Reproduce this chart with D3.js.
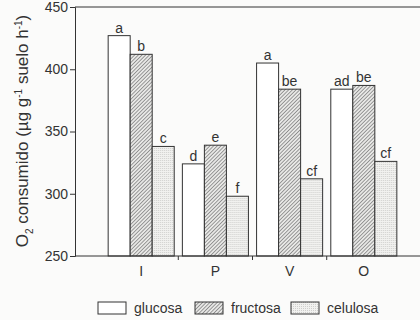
<!DOCTYPE html>
<html>
<head>
<meta charset="utf-8">
<script src="https://cdn.jsdelivr.net/npm/d3@7"></script>
<style>
  body { margin: 0; background: #fbfbfa; }
  svg { display: block; font-family: "Liberation Sans", Arial, sans-serif; }
</style>
</head>
<body>
<svg id="chart" width="420" height="320"></svg>
<script>
const sites = ["I", "P", "V", "O"];
const sugars = ["glucosa", "fructosa", "celulosa"];
const glucosa = [427, 324, 405, 384];
const fructosa = [412, 339, 384, 387];
const celulosa = [338, 298, 312, 326];
const letters = [
  ["a", "b", "c"],
  ["d", "e", "f"],
  ["a", "be", "cf"],
  ["ad", "be", "cf"]
];
const yTicks = [250, 300, 350, 400, 450];

const series = { glucosa, fructosa, celulosa };
const ink = "#333";

const svg = d3.select("#chart");
const defs = svg.append("defs");

// hatch for fructosa
const hatch = defs.append("pattern")
  .attr("id", "hatch")
  .attr("patternUnits", "userSpaceOnUse")
  .attr("width", 2.6).attr("height", 2.6)
  .attr("patternTransform", "rotate(45)");
hatch.append("rect").attr("width", 2.6).attr("height", 2.6).attr("fill", "#e8e8e6");
hatch.append("line")
  .attr("x1", 0).attr("y1", 0).attr("x2", 0).attr("y2", 2.6)
  .attr("stroke", "#4a4a4a").attr("stroke-width", 1);

// stipple for celulosa
const dots = defs.append("pattern")
  .attr("id", "dots")
  .attr("patternUnits", "userSpaceOnUse")
  .attr("width", 2).attr("height", 2);
dots.append("rect").attr("width", 2).attr("height", 2).attr("fill", "#f1f1ef");
dots.append("rect").attr("width", 1).attr("height", 1).attr("fill", "#cfcfcd");

const fills = { glucosa: "#fff", fructosa: "url(#hatch)", celulosa: "url(#dots)" };

const plotLeft = 75, plotRight = 420, plotTop = 7, plotBottom = 256;

const x0 = d3.scaleBand().domain(sites).range([100, 405]).padding(0.11);
const x1 = d3.scaleBand().domain(sugars).range([0, x0.bandwidth()]);
const y = d3.scaleLinear().domain([250, 450]).range([plotBottom, plotTop]);

// bars
const groups = svg.append("g")
  .selectAll("g")
  .data(sites)
  .join("g")
  .attr("transform", (d) => `translate(${x0(d)},0)`);

const cells = (d, i) => sugars.map((s, j) => ({ s, v: series[s][i], lab: letters[i][j] }));

groups.selectAll("rect")
  .data(cells)
  .join("rect")
  .attr("x", (d) => x1(d.s))
  .attr("width", x1.bandwidth())
  .attr("y", (d) => y(d.v))
  .attr("height", (d) => plotBottom - y(d.v))
  .attr("fill", (d) => fills[d.s])
  .attr("stroke", ink)
  .attr("stroke-width", 1);

groups.selectAll("text")
  .data(cells)
  .join("text")
  .attr("x", (d) => x1(d.s) + x1.bandwidth() / 2)
  .attr("y", (d) => y(d.v) - 3)
  .attr("text-anchor", "middle")
  .attr("font-size", 14)
  .attr("fill", ink)
  .text((d) => d.lab);

// Y-Axis
const yAxis = svg.append("g")
  .attr("transform", `translate(${plotLeft},0)`)
  .call(d3.axisLeft(y).tickValues(yTicks).tickSize(5).tickPadding(2));
yAxis.select(".domain").attr("stroke", ink);
yAxis.selectAll(".tick line").attr("stroke", ink);
yAxis.selectAll("text").attr("font-size", 14).attr("fill", ink)
  .attr("font-family", "Liberation Sans, Arial, sans-serif");

// top line
svg.append("line")
  .attr("x1", plotLeft).attr("x2", plotRight)
  .attr("y1", y(450)).attr("y2", y(450))
  .attr("stroke", ink);

// X-Axis
svg.append("line")
  .attr("x1", plotLeft).attr("x2", plotRight)
  .attr("y1", plotBottom).attr("y2", plotBottom)
  .attr("stroke", ink);

const gap = (x0.step() - x0.bandwidth()) / 2;
svg.append("g")
  .selectAll("line")
  .data(sites.slice(1))
  .join("line")
  .attr("x1", (d) => x0(d) - gap)
  .attr("x2", (d) => x0(d) - gap)
  .attr("y1", plotBottom).attr("y2", plotBottom + 4)
  .attr("stroke", ink);

svg.append("g")
  .selectAll("text")
  .data(sites)
  .join("text")
  .attr("x", (d) => x0(d) + x0.bandwidth() / 2)
  .attr("y", 276)
  .attr("text-anchor", "middle")
  .attr("font-size", 14)
  .attr("fill", ink)
  .text((d) => d);

// Y-axis label
const yl = svg.append("text")
  .attr("transform", "translate(28,131) rotate(-90)")
  .attr("text-anchor", "middle")
  .attr("font-size", 17)
  .attr("fill", ink);
yl.append("tspan").text("O");
yl.append("tspan").attr("font-size", 10).attr("dy", 5).text("2");
yl.append("tspan").attr("dy", -5).text(" consumido (µg g");
yl.append("tspan").attr("font-size", 10).attr("dy", -6).text("-1");
yl.append("tspan").attr("dy", 6).text(" suelo h");
yl.append("tspan").attr("font-size", 10).attr("dy", -6).text("-1");
yl.append("tspan").attr("dy", 6).text(")");

// legend
const legendX = [98, 195, 291];
const legend = svg.append("g")
  .selectAll("g")
  .data(sugars)
  .join("g")
  .attr("transform", (d, i) => `translate(${legendX[i]},302)`);
legend.append("rect")
  .attr("width", 28).attr("height", 12)
  .attr("fill", (d) => fills[d])
  .attr("stroke", ink);
legend.append("text")
  .attr("x", 36).attr("y", 11)
  .attr("font-size", 14)
  .attr("fill", ink)
  .text((d) => d);
</script>
</body>
</html>
